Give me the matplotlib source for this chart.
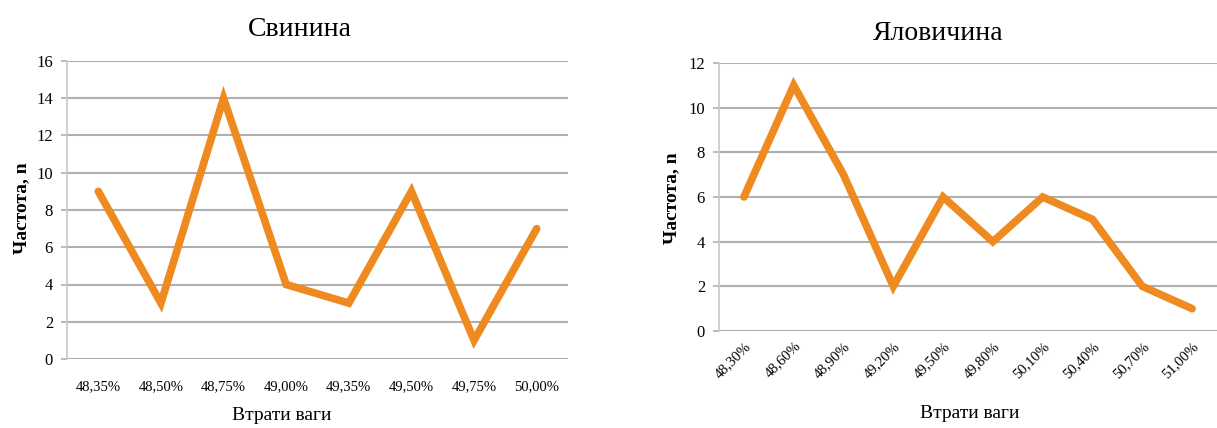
import matplotlib
matplotlib.use("Agg")
import matplotlib.pyplot as plt

plt.rcParams['font.family'] = ['Liberation Serif', 'DejaVu Serif']

# Pork: weight loss categories and frequencies
pork_labels = ["48,35%", "48,50%", "48,75%", "49,00%", "49,35%", "49,50%", "49,75%", "50,00%"]
pork_freq = [9, 3, 14, 4, 3, 9, 1, 7]

# Beef: weight loss categories and frequencies
beef_labels = ["48,30%", "48,60%", "48,90%", "49,20%", "49,50%", "49,80%",
               "50,10%", "50,40%", "50,70%", "51,00%"]
beef_freq = [6, 11, 7, 2, 6, 4, 6, 5, 2, 1]

LINE_COLOR = "#EE8A1F"
GRID_COLOR = "#AFAFAF"
W, H = 1217, 428

fig = plt.figure(figsize=(W / 100, H / 100), dpi=100)
ax1 = fig.add_axes([67 / W, 1 - 359 / H, (568 - 67) / W, (359 - 61) / H])
ax2 = fig.add_axes([719 / W, 1 - 331 / H, (1217 - 719) / W, (331 - 63) / H])


def px(x, y):
    return x / W, 1 - y / H


def style(ax, labels, values, ymax, rot):
    x = range(len(labels))
    ax.plot(x, values, color=LINE_COLOR, linewidth=5.5, solid_capstyle="round",
            solid_joinstyle="miter", zorder=3)
    ax.set_xlim(-0.5, len(labels) - 0.5)
    ax.set_ylim(0, ymax)
    ax.set_yticks(range(0, ymax + 1, 2))
    ax.set_xticks(list(x))
    if rot:
        ax.set_xticklabels(labels, rotation=45, ha="right", rotation_mode="anchor",
                           fontsize=10.5)
        ax.tick_params(axis="x", length=0, pad=6)
    else:
        ax.set_xticklabels(labels, fontsize=10.5)
        ax.tick_params(axis="x", length=0, pad=15)
    ax.yaxis.grid(True, color=GRID_COLOR, linewidth=1.5, zorder=0)
    ax.set_axisbelow(True)
    for side in ("top", "right", "bottom"):
        ax.spines[side].set_visible(False)
    ax.spines["left"].set_color("#C8C8C8")
    ax.spines["left"].set_linewidth(1.2)
    ax.tick_params(axis="y", length=4, color=GRID_COLOR, width=1.2, labelsize=12,
                   pad=6)


style(ax1, pork_labels, pork_freq, 16, False)
style(ax2, beef_labels, beef_freq, 12, True)

# titles, axis labels
fig.text(*px(300, 30), "Свинина", fontsize=20, ha="center", va="center")
fig.text(*px(938, 33), "Яловичина", fontsize=20, ha="center", va="center")
fig.text(*px(282, 416), "Втрати ваги", fontsize=14, ha="center", va="center")
fig.text(*px(970, 413), "Втрати ваги", fontsize=14, ha="center", va="center")
fig.text(*px(22, 208), "Частота, n", fontsize=14, fontweight="bold",
         rotation=90, ha="center", va="center")
fig.text(*px(672, 198), "Частота, n", fontsize=14, fontweight="bold",
         rotation=90, ha="center", va="center")

fig.savefig("out.png", dpi=100)
